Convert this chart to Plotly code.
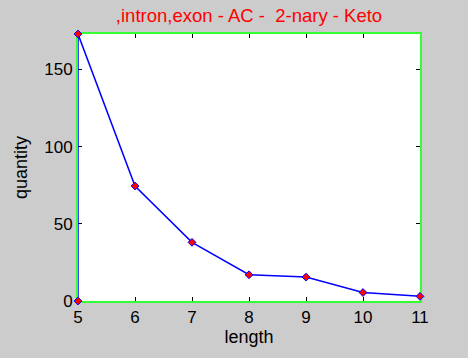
import plotly.graph_objects as go

lengths = [5, 5, 6, 7, 8, 9, 10, 11]
quantities = [0, 173, 74.5, 38, 17, 15.5, 5.5, 3]
x_ticks = [5, 6, 7, 8, 9, 10, 11]
y_ticks = [0, 50, 100, 150]
title_text = ",intron,exon - AC -  2-nary - Keto"

fig = go.Figure()
fig.add_trace(go.Scatter(
    x=lengths, y=quantities, mode="lines+markers",
    line=dict(color="#0000FF", width=1.5),
    marker=dict(symbol="diamond", size=6, color="#FF0000",
                line=dict(color="#0000FF", width=1)),
    cliponaxis=False, showlegend=False,
))

font_family = "Liberation Sans, Arial, sans-serif"
fig.update_layout(
    width=468, height=358,
    paper_bgcolor="#CCCCCC", plot_bgcolor="#FFFFFF",
    margin=dict(l=78, r=48, t=34, b=57),
    title=dict(text=title_text, xref="paper", x=0.5, xanchor="center",
               y=0.958, yanchor="middle",
               font=dict(family=font_family, size=18.5, color="#FF0000")),
    font=dict(family=font_family, size=17, color="#000000"),
)
axis_common = dict(
    showgrid=False, zeroline=False, automargin=False, layer="below traces",
    showline=True, linecolor="#33FF33", linewidth=2, mirror="ticks",
    ticks="inside", ticklen=4, tickcolor="#000000", tickwidth=1,
    tickfont=dict(family=font_family, size=17, color="#000000"),
)
fig.update_xaxes(range=[5, 11], tickvals=x_ticks,
                 title=dict(text="length", font=dict(family=font_family, size=18), standoff=2),
                 **axis_common)
fig.update_yaxes(range=[0, 173], tickvals=y_ticks,
                 title=dict(text="quantity", font=dict(family=font_family, size=18), standoff=12),
                 **axis_common)

fig.write_html("out.html", config={"displayModeBar": False},
               post_script="document.body.style.margin='0';")
